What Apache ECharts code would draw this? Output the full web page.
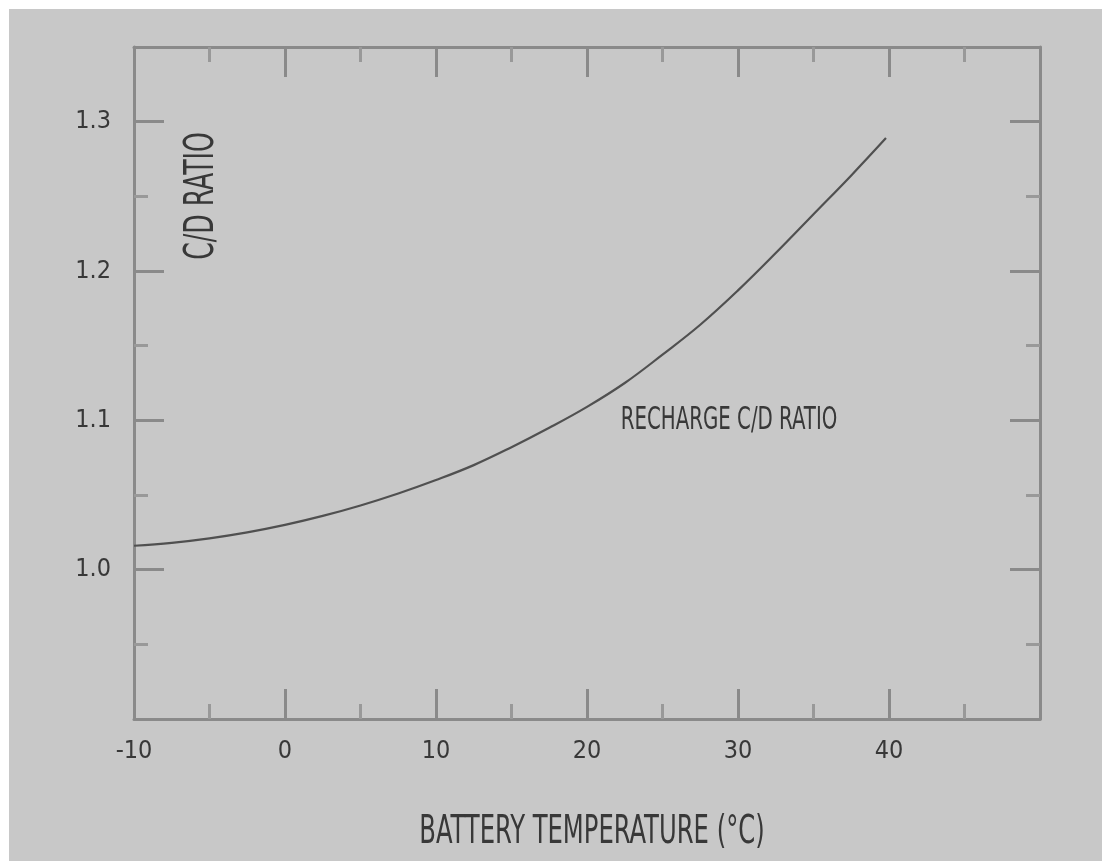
<!DOCTYPE html>
<html>
<head>
<meta charset="utf-8">
<script src="https://cdn.jsdelivr.net/npm/echarts@6/dist/echarts.min.js"></script>
<style>
  html, body { margin: 0; padding: 0; background: #ffffff; }
  #chart { position: absolute; left: 9px; top: 9px; width: 1093px; height: 852px; background: #c8c8c8; }
</style>
</head>
<body>
<div id="chart"></div>
<script>
// battery temperature (deg C) and recharge C/D ratio
const temps = [-10, -7.5, -5, -2.5, 0, 2.5, 5, 7.5, 10, 12.5, 15, 17.5, 20, 22.5, 25, 27.5, 30, 32.5, 35, 37.5, 39.8]
const ratio = [1.016, 1.018, 1.021, 1.025, 1.030, 1.036, 1.043, 1.051, 1.060, 1.070, 1.082, 1.095, 1.109, 1.125, 1.144, 1.164, 1.187, 1.212, 1.238, 1.264, 1.289]

const xTickLabels = ['-10', '0', '10', '20', '30', '40']
const yTickLabels = ['1.0', '1.1', '1.2', '1.3']

const xName = 'BATTERY TEMPERATURE (°C)'
const yName = 'C/D RATIO'
const curveName = 'RECHARGE C/D RATIO'

const font = '"Liberation Sans Narrow", "DejaVu Sans Condensed", "Liberation Sans", sans-serif'
const axisColor = '#8a8a8a'
const textColor = '#383838'

const chart = echarts.init(document.getElementById('chart'))

function xAxisCfg(pos, showLabels) {
  return {
    type: 'value',
    position: pos,
    min: -10,
    max: 50,
    interval: 10,
    axisLine: { show: true, onZero: false, lineStyle: { color: axisColor, width: 3 } },
    axisTick: { show: true, inside: true, length: 30, lineStyle: { color: axisColor, width: 3 } },
    minorTick: { show: true, splitNumber: 2, length: 15, lineStyle: { color: '#999999', width: 3 } },
    splitLine: { show: false },
    axisLabel: {
      show: showLabels,
      margin: 20,
      fontFamily: font,
      fontSize: 25,
      color: textColor,
      formatter: v => xTickLabels.includes(String(v)) ? String(v) : ''
    }
  }
}

function yAxisCfg(pos, showLabels) {
  return {
    type: 'value',
    position: pos,
    min: 0.9,
    max: 1.35,
    interval: 0.1,
    axisLine: { show: true, onZero: false, lineStyle: { color: axisColor, width: 3 } },
    axisTick: { show: true, inside: true, length: 30, lineStyle: { color: axisColor, width: 3 } },
    minorTick: { show: true, splitNumber: 2, length: 14, lineStyle: { color: '#999999', width: 3 } },
    splitLine: { show: false },
    axisLabel: {
      show: showLabels,
      margin: 23,
      fontFamily: font,
      fontSize: 25,
      color: textColor,
      formatter: v => {
        const s = v.toFixed(1)
        return yTickLabels.includes(s) ? s : ''
      }
    }
  }
}

const option = {
  animation: false,
  backgroundColor: '#c8c8c8',
  grid: { left: 125, right: 62, top: 38, bottom: 142 },
  xAxis: [xAxisCfg('bottom', true), xAxisCfg('top', false)],
  yAxis: [yAxisCfg('left', true), yAxisCfg('right', false)],
  series: [
    {
      name: curveName,
      type: 'line',
      data: temps.map((t, i) => [t, ratio[i]]),
      smooth: 0.4,
      showSymbol: false,
      lineStyle: { color: '#505050', width: 2.2 },
      itemStyle: { color: '#505050' }
    }
  ],
  graphic: [
    {
      type: 'text',
      x: 583,
      y: 824,
      scaleY: 1.45,
      style: {
        text: xName,
        fontFamily: font,
        fontSize: 27,
        fill: textColor,
        align: 'center',
        verticalAlign: 'middle'
      }
    },
    {
      type: 'text',
      x: 193,
      y: 187,
      rotation: Math.PI / 2,
      scaleY: 1.45,
      style: {
        text: yName,
        fontFamily: font,
        fontSize: 28,
        fill: textColor,
        align: 'center',
        verticalAlign: 'middle'
      }
    },
    {
      type: 'text',
      x: 720,
      y: 412,
      scaleY: 1.45,
      style: {
        text: curveName,
        fontFamily: font,
        fontSize: 22,
        fill: textColor,
        align: 'center',
        verticalAlign: 'middle'
      }
    }
  ]
}

chart.setOption(option)
</script>
</body>
</html>
